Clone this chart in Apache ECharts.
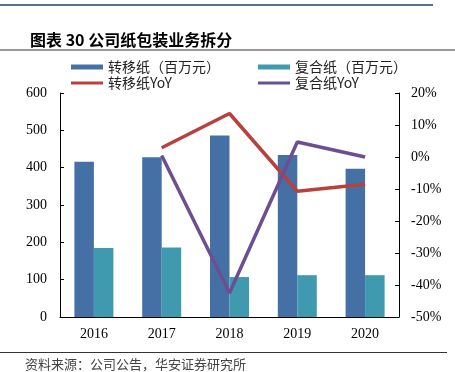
<!DOCTYPE html>
<html>
<head>
<meta charset="utf-8">
<script src="https://cdn.jsdelivr.net/npm/echarts@6/dist/echarts.min.js"></script>
<style>
html,body{margin:0;padding:0;background:#fff;}
#chart{width:455px;height:372px;}
</style>
</head>
<body>
<div id="chart"></div>
<script>
var categories = ['2016', '2017', '2018', '2019', '2020'];
var transferPaper = [416, 428, 486, 434, 397];
var compositePaper = [185, 186, 107, 112, 112];
var transferYoY = [null, 2.9, 13.6, -10.7, -8.5];
var compositeYoY = [null, 0.5, -42.5, 4.7, 0.0];
var leftTicks = { min: 0, max: 600, interval: 100 };
var rightTicks = { min: -50, max: 20, interval: 10 };

var names = ['转移纸（百万元）', '复合纸（百万元）', '转移纸YoY', '复合纸YoY'];
var colors = { blue: '#4470a6', teal: '#3f9ab0', red: '#b8423b', purple: '#6c4f93' };

var chart = echarts.init(document.getElementById('chart'));
var axisFont = { fontFamily: 'Liberation Serif', fontSize: 14, color: '#000' };
var legendText = { fontFamily: 'Noto Sans CJK SC', fontSize: 14, color: '#222' };
var thinIcon = 'path://M0,0H32V3H0Z';

chart.setOption({
  animation: false,
  backgroundColor: '#fff',
  title: {
    text: '图表 30 公司纸包装业务拆分',
    left: 25, top: 27,
    textStyle: { fontFamily: 'Noto Sans CJK SC', fontSize: 16, fontWeight: 'bold', color: '#000' }
  },
  graphic: [
    { type: 'line', shape: { x1: 0, y1: 5, x2: 433, y2: 5 }, style: { stroke: '#2a3f6b', lineWidth: 1.5 } },
    { type: 'line', shape: { x1: 0, y1: 50, x2: 455, y2: 50 }, style: { stroke: '#333', lineWidth: 1 } },
    { type: 'line', shape: { x1: 0, y1: 352.5, x2: 447, y2: 352.5 }, style: { stroke: '#333', lineWidth: 1 } },
    { type: 'text', left: 25, top: 358, style: { text: '资料来源：公司公告，华安证券研究所', font: '13px "Noto Sans CJK SC"', fill: '#444' } }
  ],
  legend: [
    {
      left: 66, top: 55, orient: 'vertical', itemGap: 2, itemWidth: 32, itemHeight: 5, icon: 'rect',
      data: [{ name: names[0] }, { name: names[2], icon: thinIcon }], textStyle: legendText
    },
    {
      left: 253, top: 55, orient: 'vertical', itemGap: 2, itemWidth: 32, itemHeight: 5, icon: 'rect',
      data: [{ name: names[1] }, { name: names[3], icon: thinIcon }], textStyle: legendText
    }
  ],
  grid: { left: 60, right: 56, top: 93, bottom: 55 },
  xAxis: {
    type: 'category',
    data: categories,
    axisLine: { lineStyle: { color: '#000', width: 1 } },
    axisTick: { inside: true, length: 4, lineStyle: { color: '#000' } },
    axisLabel: Object.assign({ margin: 10 }, axisFont)
  },
  yAxis: [
    {
      type: 'value', min: leftTicks.min, max: leftTicks.max, interval: leftTicks.interval,
      splitLine: { show: false },
      axisLine: { show: true, lineStyle: { color: '#000', width: 1 } },
      axisTick: { show: true, inside: true, length: 4, lineStyle: { color: '#000' } },
      axisLabel: Object.assign({ margin: 13 }, axisFont)
    },
    {
      type: 'value', min: rightTicks.min, max: rightTicks.max, interval: rightTicks.interval,
      splitLine: { show: false },
      axisLine: { show: true, lineStyle: { color: '#000', width: 1 } },
      axisTick: { show: true, inside: true, length: 4, lineStyle: { color: '#000' } },
      axisLabel: Object.assign({ margin: 12, formatter: '{value}%' }, axisFont)
    }
  ],
  series: [
    {
      name: names[0], type: 'bar', data: transferPaper, barWidth: 19.5, barGap: '0%',
      color: colors.blue, itemStyle: { color: colors.blue }
    },
    {
      name: names[1], type: 'bar', data: compositePaper, barWidth: 19.5, barGap: '0%',
      color: colors.teal, itemStyle: { color: colors.teal }
    },
    {
      name: names[2], type: 'line', yAxisIndex: 1, data: transferYoY, symbol: 'none',
      color: colors.red, lineStyle: { color: colors.red, width: 3.5 }, itemStyle: { color: colors.red }
    },
    {
      name: names[3], type: 'line', yAxisIndex: 1, data: compositeYoY, symbol: 'none',
      color: colors.purple, lineStyle: { color: colors.purple, width: 3.5 }, itemStyle: { color: colors.purple }
    }
  ]
});
</script>
</body>
</html>
